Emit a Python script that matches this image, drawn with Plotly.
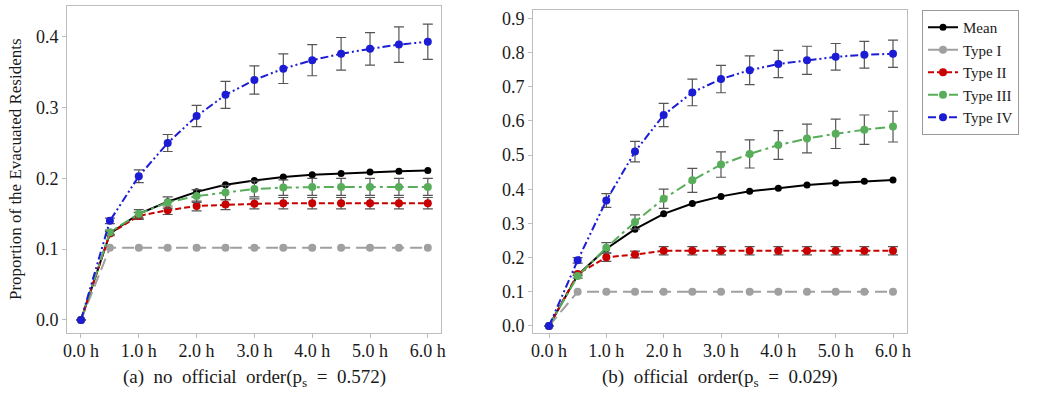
import plotly.graph_objects as go

hours = [0, 0.5, 1, 1.5, 2, 2.5, 3, 3.5, 4, 4.5, 5, 5.5, 6]
tick_vals = [0, 1, 2, 3, 4, 5, 6]
tick_text = ["0.0 h", "1.0 h", "2.0 h", "3.0 h", "4.0 h", "5.0 h", "6.0 h"]
series_names = ["Mean", "Type I", "Type II", "Type III", "Type IV"]

# (a) no official order
mean_a = [0, 0.122, 0.150, 0.167, 0.181, 0.191, 0.197, 0.202, 0.205, 0.207, 0.209, 0.210, 0.211]
t1_a = [0, 0.102, 0.102, 0.102, 0.102, 0.102, 0.102, 0.102, 0.102, 0.102, 0.102, 0.102, 0.102]
t2_a = [0, 0.122, 0.147, 0.155, 0.161, 0.163, 0.164, 0.165, 0.165, 0.165, 0.165, 0.165, 0.165]
t3_a = [0, 0.124, 0.150, 0.166, 0.175, 0.180, 0.185, 0.187, 0.188, 0.188, 0.188, 0.188, 0.188]
t4_a = [0, 0.140, 0.203, 0.250, 0.288, 0.318, 0.339, 0.355, 0.367, 0.376, 0.383, 0.389, 0.393]
t2_err_a = [0, 0.003, 0.005, 0.006, 0.007, 0.007, 0.007, 0.008, 0.008, 0.008, 0.008, 0.008, 0.008]
t3_err_a = [0, 0.003, 0.006, 0.008, 0.009, 0.010, 0.011, 0.011, 0.012, 0.012, 0.012, 0.012, 0.012]
t4_err_a = [0, 0.004, 0.009, 0.012, 0.015, 0.019, 0.020, 0.021, 0.022, 0.023, 0.023, 0.025, 0.025]

# (b) official order
mean_b = [0, 0.149, 0.226, 0.283, 0.328, 0.358, 0.379, 0.394, 0.403, 0.412, 0.418, 0.423, 0.427]
t1_b = [0, 0.100, 0.100, 0.100, 0.100, 0.100, 0.100, 0.100, 0.100, 0.100, 0.100, 0.100, 0.100]
t2_b = [0, 0.152, 0.201, 0.209, 0.220, 0.220, 0.220, 0.220, 0.220, 0.220, 0.220, 0.220, 0.220]
t3_b = [0, 0.146, 0.229, 0.304, 0.372, 0.426, 0.472, 0.503, 0.529, 0.548, 0.562, 0.574, 0.583]
t4_b = [0, 0.192, 0.367, 0.510, 0.617, 0.683, 0.722, 0.748, 0.766, 0.777, 0.787, 0.793, 0.796]
t2_err_b = [0, 0.005, 0.012, 0.010, 0.012, 0.012, 0.012, 0.012, 0.012, 0.012, 0.012, 0.012, 0.012]
t3_err_b = [0, 0.006, 0.015, 0.021, 0.028, 0.035, 0.037, 0.041, 0.042, 0.042, 0.043, 0.043, 0.045]
t4_err_b = [0, 0.008, 0.020, 0.030, 0.034, 0.039, 0.040, 0.042, 0.040, 0.041, 0.039, 0.039, 0.040]

captions = ["(a)\u00a0\u00a0no\u00a0\u00a0official\u00a0\u00a0order(p<sub>s</sub>\u00a0\u00a0=\u00a0\u00a00.572)",
            "(b)\u00a0\u00a0official\u00a0\u00a0order(p<sub>s</sub>\u00a0\u00a0=\u00a0\u00a00.029)"]
y_title = "Proportion of the Evacuated Residents"

FONT = "Liberation Serif, Times New Roman, serif"
styles = [
    dict(color="#000000", dash="solid", size=7),
    dict(color="#a0a0a0", dash="12px,6px", size=8),
    dict(color="#c80000", dash="6px,3px", size=8),
    dict(color="#58ad5a", dash="10px,4px,3px,4px", size=8),
    dict(color="#1c1cd4", dash="8px,3px,2px,3px,2px,3px", size=8),
]

fig = go.Figure()

def add_panel(values, errs, xa, ya, show):
    for i, (name, vals, err) in enumerate(zip(series_names, values, errs)):
        st = styles[i]
        kw = {}
        if err is not None:
            kw["error_y"] = dict(type="data", array=err, visible=True,
                                 color="#555555", thickness=1.2, width=5)
        fig.add_trace(go.Scatter(
            x=hours, y=vals, name=name, mode="lines+markers",
            line=dict(color=st["color"], width=2, dash=st["dash"]),
            marker=dict(color=st["color"], size=st["size"], symbol="circle"),
            xaxis=xa, yaxis=ya, showlegend=show, legendgroup=name, **kw))

add_panel([mean_a, t1_a, t2_a, t3_a, t4_a], [None, None, t2_err_a, t3_err_a, t4_err_a], "x", "y", True)
add_panel([mean_b, t1_b, t2_b, t3_b, t4_b], [None, None, t2_err_b, t3_err_b, t4_err_b], "x2", "y2", False)

W, H = 1038, 405
axis_common = dict(showline=True, linecolor="#bdbdbd", linewidth=1, mirror=True,
                   showgrid=False, zeroline=False, ticks="outside", ticklen=4,
                   tickcolor="#bdbdbd", automargin=False,
                   tickfont=dict(family=FONT, size=18, color="#1a1a1a"))

fig.update_layout(
    width=W, height=H, margin=dict(l=0, r=0, t=0, b=0, autoexpand=False),
    paper_bgcolor="white", plot_bgcolor="white",
    font=dict(family=FONT, size=16, color="#1a1a1a"),
    xaxis=dict(domain=[67 / W, 441 / W], range=[-0.242, 6.228], tickvals=tick_vals,
               ticktext=tick_text, anchor="y", ticklabelstandoff=-3, **axis_common),
    yaxis=dict(domain=[1 - 333 / H, 1 - 6 / H], range=[-0.0184, 0.4435],
               dtick=0.1, tickformat=".1f", anchor="x", **axis_common),
    xaxis2=dict(domain=[533 / W, 907 / W], range=[-0.279, 6.244], tickvals=tick_vals,
                ticktext=tick_text, anchor="y2", ticklabelstandoff=-3, **axis_common),
    yaxis2=dict(domain=[1 - 333 / H, 1 - 10 / H], range=[-0.0205, 0.924],
                dtick=0.1, tickformat=".1f", anchor="x2", **axis_common),
    legend=dict(x=922 / W, y=1 - 10 / H, xanchor="left", yanchor="top",
                bordercolor="#9a9a9a", borderwidth=1, bgcolor="white",
                font=dict(family=FONT, size=15, color="#1a1a1a"),
                itemwidth=30, tracegroupgap=0),
)

fig.add_annotation(text=captions[0], xref="paper", yref="paper", x=254 / W, y=1 - 378 / H,
                   xanchor="center", yanchor="middle", showarrow=False,
                   font=dict(family=FONT, size=19, color="#1a1a1a"))
fig.add_annotation(text=captions[1], xref="paper", yref="paper", x=720 / W, y=1 - 378 / H,
                   xanchor="center", yanchor="middle", showarrow=False,
                   font=dict(family=FONT, size=19, color="#1a1a1a"))
fig.add_annotation(text=y_title, xref="paper", yref="paper", x=15 / W, y=1 - 169 / H,
                   xanchor="center", yanchor="middle",
                   textangle=-90, showarrow=False, font=dict(family=FONT, size=17, color="#1a1a1a"))

fig.write_html("out.html", config={"displayModeBar": False},
               post_script="document.body.style.margin='0';document.body.style.overflow='hidden';")
